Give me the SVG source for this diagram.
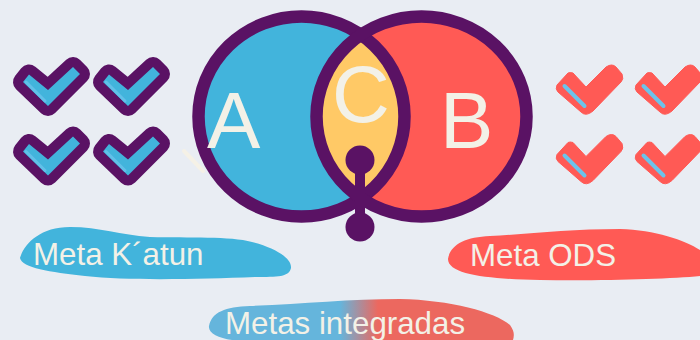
<svg xmlns="http://www.w3.org/2000/svg" width="700" height="340" viewBox="0 0 700 340">
<style>
text{font-family:"Liberation Sans",Arial,sans-serif;fill:#f3f1e7}
.label{font-size:31.300px}
.big{font-size:80px}
.ring{fill:none;stroke:#5a1264;stroke-width:12.500}
.pc{fill:#42b4dc;stroke:#5a1264;stroke-width:20;stroke-linejoin:round;paint-order:stroke}
.ph{fill:none;stroke:#62c0e8;stroke-width:3;stroke-linecap:round}
.rh{fill:none;stroke:#6cc3ea;stroke-width:4;stroke-linecap:round}
</style>
<defs>
<linearGradient id="mix" gradientUnits="userSpaceOnUse" x1="340" y1="0" x2="378" y2="0">
<stop offset="0" stop-color="#65b5dc"/><stop offset="1" stop-color="#ec685f"/>
</linearGradient>
<clipPath id="clipA"><ellipse cx="301.500" cy="116.500" rx="103" ry="100"/></clipPath>
<g id="pcheck">
<path class="pc" d="M29 74.500 L48 90 L73 67 L80 74 L48 106 L23 82 Z"/>
<path class="ph" d="M26 82 L45 101"/>
</g>
<g id="rcheck">
<path d="M557 85 L568 73 Q570 72 573 73 L586 87 L606 67 Q612 63 616 67 L622 74 Q624 79 621 82 L593 111 Q586 117 581 112 L558 92 Q555 89 557 85 Z" fill="#ff5a55" stroke="#ff5a55" stroke-width="1" stroke-linejoin="round"/>
<path class="rh" d="M564.500 86 L584.500 106"/>
</g>
</defs>
<rect width="700" height="340" fill="#e9edf3"/>

<g id="node-a">
<ellipse cx="301.500" cy="116.500" rx="103" ry="100" fill="#42b4dc"/>
</g>
<g id="node-b">
<ellipse cx="421.500" cy="116.500" rx="105" ry="100" fill="#ff5a55"/>
</g>
<g id="node-c">
<ellipse cx="421.500" cy="116.500" rx="105" ry="100" fill="#ffc966" clip-path="url(#clipA)"/>
</g>
<g id="rings">
<ellipse class="ring" cx="301.500" cy="116.500" rx="103" ry="100"/>
<ellipse class="ring" cx="421.500" cy="116.500" rx="105" ry="100"/>
</g>
<g id="connectors">
<path d="M360 160 V228" stroke="#5a1264" stroke-width="10" fill="none"/>
<circle cx="360" cy="160" r="14.500" fill="#5a1264"/>
<circle cx="360" cy="227" r="14.500" fill="#5a1264"/>
</g>
<text class="big" x="207" y="148">A</text>
<text class="big" x="332" y="122">C</text>
<text class="big" x="440" y="148">B</text>
<path d="M184 151 L203 171" stroke="#f5f1e6" stroke-width="4" stroke-linecap="round" fill="none"/>

<g id="checks-blue">
<use href="#pcheck"/><use href="#pcheck" x="80"/>
<use href="#pcheck" y="69.500"/><use href="#pcheck" x="80" y="69.500"/>
</g>
<g id="checks-red">
<use href="#rcheck"/><use href="#rcheck" x="79"/>
<use href="#rcheck" y="69.500"/><use href="#rcheck" x="79" y="69.500"/>
</g>

<g id="meta-katun">
<path d="M20 258 C24 244 40 227 70 227 C100 227 120 235 150 237 C190 238 230 236 252 242 C275 248 292 258 291 268 C289 277 278 277 255 277 C200 279 130 281 85 276 C50 272 22 268 20 258 Z" fill="#42b4dc"/>
<text class="label" x="33" y="265">Meta K´atun</text>
</g>
<g id="meta-ods">
<path d="M448 259 C450 245 465 237 490 236 C530 234 570 229 620 229 C655 230 685 240 700 250 V276 C670 279 600 281 540 280 C490 279 448 275 448 259 Z" fill="#ff5a55"/>
<text class="label" x="470" y="266">Meta ODS</text>
</g>
<g id="metas-integradas">
<path d="M209 326 C212 312 225 307 250 306 C300 304 350 299 400 299 C450 300 495 312 510 325 C515 332 514 336 513 340 H232 C218 338 208 333 209 326 Z" fill="url(#mix)"/>
<text class="label" x="225" y="334">Metas integradas</text>
</g>
</svg>
